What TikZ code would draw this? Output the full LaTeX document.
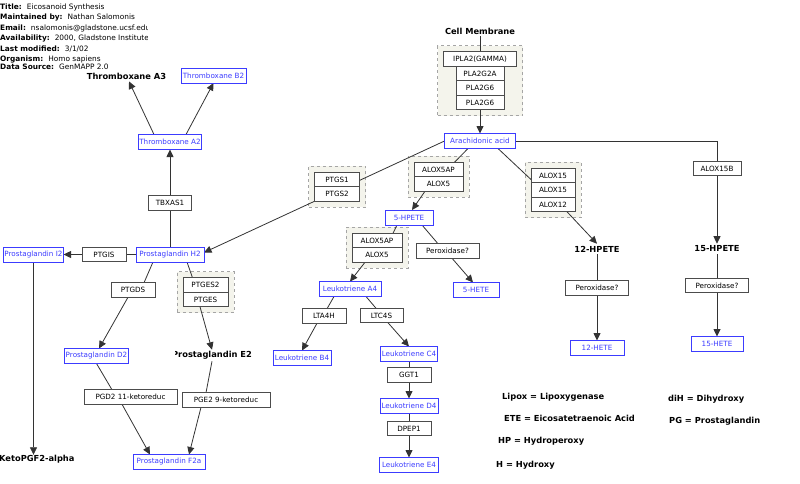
\documentclass[tikz,border=0pt]{standalone}
\usepackage{fontspec}
\setmainfont{DejaVu Sans}
\usetikzlibrary{arrows.meta,positioning,fit}
\definecolor{MapBlue}{RGB}{60,60,255}
\definecolor{GroupFill}{RGB}{244,244,236}
\definecolor{GroupLine}{RGB}{165,165,165}
\pgfdeclarelayer{groups}
\pgfdeclarelayer{edges}
\pgfsetlayers{groups,edges,main}
\tikzset{
  >={Triangle[length=7.5pt,width=7pt]},
  gene/.style={rectangle, draw=black!70, fill=white, line width=0.9pt,
    minimum width=44pt, minimum height=14.5pt, inner sep=1pt, outer sep=0pt,
    font=\fontsize{7.2}{8}\selectfont},
  metab/.style={gene, draw=MapBlue, text=MapBlue, line width=0.8pt,
    minimum height=15pt},
  chem/.style={inner sep=2pt, font=\fontsize{8.3}{9}\selectfont\bfseries},
  grpbox/.style={rectangle, draw=GroupLine, dashed, fill=GroupFill,
    line width=0.7pt, inner sep=6pt},
  infotext/.style={anchor=west, inner sep=0pt, font=\fontsize{7.4}{8}\selectfont},
  abbrev/.style={anchor=west, inner sep=0pt, font=\fontsize{8.3}{9}\selectfont\bfseries},
  conn/.style={draw=black!80, line width=0.8pt},
  flow/.style={conn, ->}
}
\begin{document}
\begin{tikzpicture}[x=1pt, y=-1pt]
\useasboundingbox (0,0) rectangle (800,483);

% header
\node[infotext] (title) at (0,7) {\textbf{Title:}\hspace{5pt}Eicosanoid Synthesis};
\node[infotext] (maint) at (0,17.5) {\textbf{Maintained by:}\hspace{5pt}Nathan Salomonis};
\begin{scope}
  \clip (0,20) rectangle (147,45);
  \node[infotext] (email) at (0,28) {\textbf{Email:}\hspace{5pt}nsalomonis@gladstone.ucsf.edu};
  \node[infotext] (avail) at (0,38.5) {\textbf{Availability:}\hspace{5pt}2000, Gladstone Institute};
\end{scope}
\node[infotext] (modif) at (0,49) {\textbf{Last modified:}\hspace{5pt}3/1/02};
\node[infotext] (organ) at (0,59.5) {\textbf{Organism:}\hspace{5pt}Homo sapiens};
\node[infotext] (source) at (0,67) {\textbf{Data Source:}\hspace{5pt}GenMAPP 2.0};

% membrane and phospholipases
\node[chem] (membrane) at (480,31) {Cell Membrane};
\node[gene, minimum width=73pt] (ipla2) at (480,59) {IPLA2(GAMMA)};
\node[gene, minimum width=48pt, below=0pt of ipla2] (pla2g2a) {PLA2G2A};
\node[gene, minimum width=48pt, below=0pt of pla2g2a] (pla2g6a) {PLA2G6};
\node[gene, minimum width=48pt, below=0pt of pla2g6a] (pla2g6b) {PLA2G6};
\node[metab, minimum width=71pt] (arach) at (480,141) {Arachidonic acid};

% cyclooxygenase branch
\node[gene, minimum width=45pt] (ptgs1) at (337,179.5) {PTGS1};
\node[gene, minimum width=45pt, below=0pt of ptgs1] (ptgs2) {PTGS2};
\node[metab, minimum width=68pt] (pgh2) at (170,254.5) {Prostaglandin H2};
\node[gene, minimum width=43pt] (tbxas1) at (170,203) {TBXAS1};
\node[metab, minimum width=62pt] (txa2) at (170,142) {Thromboxane A2};
\node[chem] (txa3) at (126.5,76) {Thromboxane A3};
\node[metab, minimum width=65pt] (txb2) at (213.5,75.5) {Thromboxane B2};
\node[gene] (ptgis) at (104,254.5) {PTGIS};
\node[metab, minimum width=59pt] (pgi2) at (33.5,254.5) {Prostaglandin I2};
\node[chem, anchor=west, inner sep=0pt] (keto) at (-1,459) {KetoPGF2-alpha};
\node[gene] (ptgds) at (133,290) {PTGDS};
\node[gene, minimum width=45pt] (ptges2) at (205.5,285) {PTGES2};
\node[gene, minimum width=45pt, below=0pt of ptges2] (ptges) {PTGES};
\node[metab, minimum width=63pt] (pgd2) at (96.5,356) {Prostaglandin D2};
\begin{scope}
  \clip (175,345) rectangle (251,366);
  \node[chem] (pge2) at (212,355) {Prostaglandin E2};
\end{scope}
\node[gene, minimum width=93pt] (pgdkr) at (130.5,397) {PGD2 11-ketoreduc};
\node[gene, minimum width=88pt] (pgekr) at (226,400) {PGE2 9-ketoreduc};
\node[metab, minimum width=72pt] (pgf2a) at (169,462) {Prostaglandin F2a};

% 5-lipoxygenase branch
\node[gene, minimum width=49pt] (alox5apa) at (438.5,169.5) {ALOX5AP};
\node[gene, minimum width=49pt, below=0pt of alox5apa] (alox5a) {ALOX5};
\node[metab, minimum width=48pt] (hpete5) at (409,217.5) {5-HPETE};
\node[gene, minimum width=50pt] (alox5apb) at (377,240.5) {ALOX5AP};
\node[gene, minimum width=50pt, below=0pt of alox5apb] (alox5b) {ALOX5};
\node[gene, minimum width=63pt] (perox5) at (447.5,251) {Peroxidase?};
\node[metab, minimum width=46pt] (hete5) at (476,290) {5-HETE};
\node[metab, minimum width=62pt] (lta4) at (350,289) {Leukotriene A4};
\node[gene] (lta4h) at (324,316) {LTA4H};
\node[gene, minimum width=43pt] (ltc4s) at (381.5,315.5) {LTC4S};
\node[metab, minimum width=58pt] (ltb4) at (302,358) {Leukotriene B4};
\node[metab, minimum width=57pt] (ltc4) at (409,354) {Leukotriene C4};
\node[gene] (ggt1) at (409,375) {GGT1};
\node[metab, minimum width=58pt] (ltd4) at (409,406) {Leukotriene D4};
\node[gene] (dpep1) at (409,428.5) {DPEP1};
\node[metab, minimum width=59pt] (lte4) at (409,465) {Leukotriene E4};

% 12/15-lipoxygenase branches
\node[gene] (alox15a) at (553,175.5) {ALOX15};
\node[gene, below=0pt of alox15a] (alox15b) {ALOX15};
\node[gene, below=0pt of alox15b] (alox12) {ALOX12};
\node[chem] (hpete12) at (597,249) {12-HPETE};
\node[gene, minimum width=63pt] (perox12) at (597,288) {Peroxidase?};
\node[metab, minimum width=54pt] (hete12) at (597,348) {12-HETE};
\node[gene, minimum width=48pt] (alox15bb) at (717,168.5) {ALOX15B};
\node[chem] (hpete15) at (717,249) {15-HPETE};
\node[gene, minimum width=63pt] (perox15) at (717,285.5) {Peroxidase?};
\node[metab, minimum width=52pt] (hete15) at (717,344) {15-HETE};

% abbreviations
\node[abbrev] (lipox) at (502,397) {Lipox = Lipoxygenase};
\node[abbrev] (ete) at (504,418) {ETE = Eicosatetraenoic Acid};
\node[abbrev] (hp) at (498,441) {HP = Hydroperoxy};
\node[abbrev] (hy) at (496,465) {H = Hydroxy};
\node[abbrev] (dih) at (668,399) {diH = Dihydroxy};
\node[abbrev] (pg) at (669,421) {PG = Prostaglandin};

% complexes
\begin{pgfonlayer}{groups}
\node[grpbox, fit=(ipla2)(pla2g6b)] (memgrp) {};
\node[grpbox, fit=(ptgs1)(ptgs2)] (ptgsgrp) {};
\node[grpbox, fit=(alox5apa)(alox5a)] (aloxgrpa) {};
\node[grpbox, fit=(alox5apb)(alox5b)] (aloxgrpb) {};
\node[grpbox, fit=(ptges2)(ptges)] (ptgesgrp) {};
\node[grpbox, fit=(alox15a)(alox12)] (alox15grp) {};
\end{pgfonlayer}

\begin{pgfonlayer}{edges}
\draw[conn] (membrane) -- (ipla2);
\draw[flow] (pla2g6b) -- (arach);
\draw[flow] (arach.west) -- ([yshift=2pt]pgh2.east);
\draw[conn] ([xshift=-12pt]arach.south) -- ([xshift=16pt]alox5apa.north);
\draw[conn] ([xshift=18pt]arach.south) -- ([yshift=-4pt]alox15a.west);
\draw[conn] (arach.east) -| (alox15bb.north);

\draw[conn] (pgh2) -- (tbxas1);
\draw[flow] (tbxas1) -- (txa2);
\draw[flow] ([xshift=-16pt]txa2.north) -- ([xshift=2.5pt]txa3.south);
\draw[flow] ([xshift=16pt]txa2.north) -- (txb2.south);
\draw[conn] (pgh2) -- (ptgis);
\draw[flow] (ptgis) -- (pgi2);
\draw[flow] (pgi2) -- (pgi2 |- keto.north);
\draw[conn] ([xshift=-17pt]pgh2.south) -- ([xshift=11pt]ptgds.north);
\draw[flow] ([xshift=-5pt]ptgds.south) -- ([xshift=2.5pt]pgd2.north);
\draw[conn] ([xshift=17pt]pgh2.south) -- ([xshift=-13pt]ptges2.north);
\draw[flow] ([xshift=-5.5pt]ptges.south) -- ([yshift=-1pt]pge2.north);
\draw[conn] (pgd2.south) -- ([xshift=-18.5pt]pgdkr.north);
\draw[flow] ([xshift=-8.5pt]pgdkr.south) -- ([xshift=-19pt]pgf2a.north);
\draw[conn] (pge2.south) -- ([xshift=-20pt]pgekr.north);
\draw[flow] ([xshift=-25pt]pgekr.south) -- ([xshift=20pt]pgf2a.north);

\draw[flow] ([xshift=-13.5pt]alox5a.south) -- ([xshift=3pt]hpete5.north);
\draw[conn] ([xshift=-12pt]hpete5.south) -- ([xshift=16pt]alox5apb.north);
\draw[conn] ([xshift=13pt]hpete5.south) -- ([xshift=-9.5pt]perox5.north);
\draw[flow] ([xshift=4.5pt]perox5.south) -- ([xshift=-3pt]hete5.north);
\draw[flow] ([xshift=-12pt]alox5b.south) -- (lta4.north);
\draw[conn] ([xshift=-16pt]lta4.south) -- ([xshift=3pt]lta4h.north);
\draw[conn] ([xshift=16pt]lta4.south) -- ([xshift=-5.5pt]ltc4s.north);
\draw[flow] ([xshift=-7pt]lta4h.south) -- (ltb4.north);
\draw[flow] ([xshift=6.5pt]ltc4s.south) -- (ltc4.north);
\draw[conn] (ltc4) -- (ggt1);
\draw[flow] (ggt1) -- (ltd4);
\draw[conn] (ltd4) -- (dpep1);
\draw[flow] (dpep1) -- (lte4);

\draw[flow] ([xshift=14pt]alox12.south) -- (hpete12.north);
\draw[conn] (hpete12) -- (perox12);
\draw[flow] (perox12) -- (hete12);
\draw[flow] (alox15bb) -- (hpete15);
\draw[conn] (hpete15) -- (perox15);
\draw[flow] (perox15) -- (hete15);
\end{pgfonlayer}

\end{tikzpicture}
\end{document}
